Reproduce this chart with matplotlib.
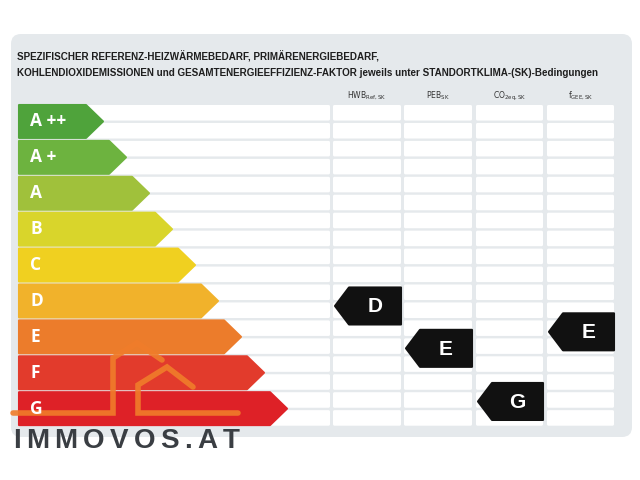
import numpy as np
import matplotlib.pyplot as plt
from matplotlib.patches import Polygon, FancyBboxPatch

# energy classes (top to bottom) and their bar colours
classes = ["A ++", "A +", "A", "B", "C", "D", "E", "F", "G"]
class_colors = ["#4fa33b", "#6db33f", "#a0c13b", "#d9d52b", "#f0d020",
                "#f1b22b", "#ec7c2b", "#e23b2c", "#de2127"]

# indicator columns
columns = [r"HWB$_{\mathregular{Ref, SK}}$", r"PEB$_{\mathregular{SK}}$",
           r"CO$_{\mathregular{2eq,SK}}$", r"f$_{\mathregular{GEE, SK}}$"]
ratings = ["D", "E", "G", "E"]
# marker position on the class scale (0 = A++, 8 = G)
rating_pos = [5.14, 6.32, 7.80, 5.86]

title_lines = ["SPEZIFISCHER REFERENZ-HEIZWÄRMEBEDARF, PRIMÄRENERGIEBEDARF,",
               "KOHLENDIOXIDEMISSIONEN und GESAMTENERGIEEFFIZIENZ-FAKTOR jeweils unter STANDORTKLIMA-(SK)-Bedingungen"]

panel_col = "#e5e9ec"
top, pitch = 105.0, 35.9
col_x = [(333, 401), (404, 472), (476, 543), (547, 614)]

fig = plt.figure(figsize=(6.4, 4.8), dpi=100)
ax = fig.add_axes([0, 0, 1, 1])
ax.set_xlim(0, 640)
ax.set_ylim(480, 0)
ax.axis("off")

ax.add_patch(FancyBboxPatch((11, 34), 621, 403, boxstyle="round,pad=0,rounding_size=10",
                            fc=panel_col, ec="none"))

# title
for k, line in enumerate(title_lines):
    ax.text(17, 57 + 16 * k, line, fontsize=7.1, fontweight="bold", color="#1e1e1e",
            family=["Liberation Sans Narrow", "Liberation Sans"], va="center", ha="left")

# column headers
for (x0, x1), lab in zip(col_x, columns):
    ax.text((x0 + x1) / 2, 96, lab, fontsize=5.5, color="#333333", ha="center", va="center")

# white row strips (two per class)
sub = pitch / 2
for r in range(2 * len(classes)):
    y = top + r * sub
    ax.add_patch(FancyBboxPatch((19, y), 311, sub - 2.4, boxstyle="round,pad=0,rounding_size=1.5",
                                fc="white", ec="none"))
    for x0, x1 in col_x:
        ax.add_patch(FancyBboxPatch((x0, y), x1 - x0, sub - 2.4,
                                    boxstyle="round,pad=0,rounding_size=1.5", fc="white", ec="none"))

# class arrows
for i, (lab, c) in enumerate(zip(classes, class_colors)):
    y0 = top + i * pitch
    y1 = y0 + pitch - 3
    yc = (y0 + y1) / 2
    body = 86 + 23 * i
    pts = [(19, y0), (body, y0), (body + 17, yc), (body, y1), (19, y1)]
    ax.add_patch(Polygon(pts, closed=True, fc=c, ec=c, lw=1.5, joinstyle="round"))
    ax.text(30, yc, lab, color="white", fontsize=12.5, fontweight="bold",
            family="Open Sans", ha="left", va="center")

# rating markers
for (x0, x1), lab, p in zip(col_x, ratings, rating_pos):
    yc = top + p * pitch + (pitch - 3) / 2
    h = 18.5
    pts = [(x0 + 2, yc), (x0 + 16, yc - h), (x1, yc - h), (x1, yc + h), (x0 + 16, yc + h)]
    ax.add_patch(Polygon(pts, closed=True, fc="#111111", ec="#111111", lw=1.5, joinstyle="round"))
    ax.text((x0 + 16 + x1) / 2, yc + 1, lab, color="white", fontsize=15, fontweight="bold",
            family="Liberation Sans", ha="center", va="center")

# watermark logo
orange = "#f07d2a"
ax.plot([13, 113, 113, 137, 162], [413, 413, 358, 343, 360], color=orange, lw=4,
        solid_capstyle="round", solid_joinstyle="miter", alpha=0.9)
ax.plot([238, 138, 138, 167, 193], [413, 413, 385, 367, 387], color=orange, lw=4,
        solid_capstyle="round", solid_joinstyle="miter", alpha=0.9)

fig.canvas.draw()
rend = fig.canvas.get_renderer()
x = 13
for ch in "IMMOVOS.AT":
    t = ax.text(x, 448, ch, fontsize=20, fontweight="bold", family="Liberation Sans",
                color="#3a3e43", ha="left", va="baseline")
    bb = t.get_window_extent(renderer=rend)
    x += bb.width + 5.3

fig.savefig("out.png", dpi=100)
